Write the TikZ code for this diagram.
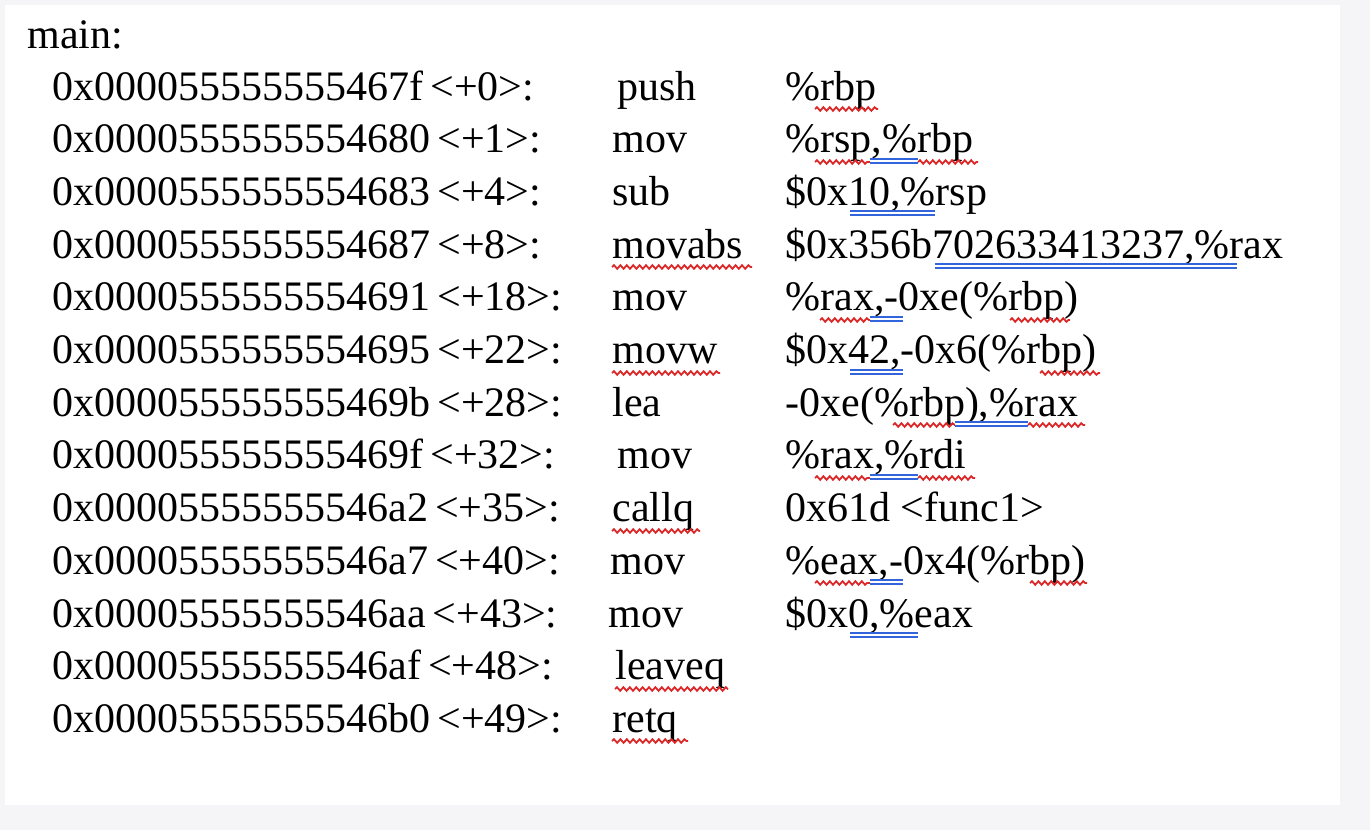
\documentclass[tikz,border=0pt]{standalone}
\usepackage{fontspec}
\setmainfont{Liberation Serif}
\usetikzlibrary{decorations.pathmorphing}
\definecolor{bgc}{RGB}{245,245,247}
\definecolor{spred}{RGB}{220,40,40}
\definecolor{spblue}{RGB}{50,100,220}
\tikzset{
  txt/.style={anchor=base west,inner sep=0pt,font=\fontsize{21}{21}\selectfont},
  redsq/.style={spred,line width=0.9pt,decorate,decoration={snake,amplitude=0.9pt,segment length=3.2pt}},
  bluesq/.style={spblue,line width=0.8pt,double=white,double distance=1.2pt}
}
\newcommand{\rsq}[3]{\draw[redsq] (#1,-#3-9) -- (#2,-#3-9);}
\newcommand{\bsq}[3]{\draw[bluesq] (#1,-#3-8) -- (#2,-#3-8);}
\begin{document}
\begin{tikzpicture}[x=0.5pt,y=0.5pt]
\useasboundingbox (0,0) rectangle (1370,-830);
\fill[bgc] (0,0) rectangle (1370,-830);
\fill[white] (5,-5) rectangle (1340,-805);
\node[txt] (m) at (27,-48) {main:};
\foreach \a/\o/\mn/\mx/\op [count=\i] in {
 0x000055555555467f/{<+0>:}/push/617/{\%rbp},
 0x0000555555554680/{<+1>:}/mov/612/{\%rsp,\%rbp},
 0x0000555555554683/{<+4>:}/sub/612/{\$0x10,\%rsp},
 0x0000555555554687/{<+8>:}/movabs/612/{\$0x356b702633413237,\%rax},
 0x0000555555554691/{<+18>:}/mov/612/{\%rax,-0xe(\%rbp)},
 0x0000555555554695/{<+22>:}/movw/612/{\$0x42,-0x6(\%rbp)},
 0x000055555555469b/{<+28>:}/lea/612/{-0xe(\%rbp),\%rax},
 0x000055555555469f/{<+32>:}/mov/617/{\%rax,\%rdi},
 0x00005555555546a2/{<+35>:}/callq/612/{0x61d <func1>},
 0x00005555555546a7/{<+40>:}/mov/610/{\%eax,-0x4(\%rbp)},
 0x00005555555546aa/{<+43>:}/mov/608/{\$0x0,\%eax},
 0x00005555555546af/{<+48>:}/leaveq/615/{},
 0x00005555555546b0/{<+49>:}/retq/612/{}}{
  \pgfmathsetmacro{\yy}{-100-52.7*(\i-1)}
  \node[txt] (a\i) at (52,\yy) {\a\,\o};
  \node[txt] (n\i) at (\mx,\yy) {\mn};
  \node[txt] (o\i) at (785,\yy) {\op};
}
% spell-check marks
\rsq{815}{878}{100}
\rsq{815}{870}{153}\bsq{870}{918}{153}\rsq{918}{978}{153}
\bsq{850}{935}{205}
\rsq{612}{752}{258}\bsq{935}{1237}{258}
\rsq{820}{870}{311}\bsq{870}{903}{311}\rsq{1010}{1070}{311}
\rsq{612}{720}{364}\bsq{850}{903}{364}\rsq{1040}{1100}{364}
\rsq{893}{955}{416}\bsq{955}{1028}{416}\rsq{1028}{1085}{416}
\rsq{815}{870}{469}\bsq{870}{918}{469}\rsq{918}{975}{469}
\rsq{612}{700}{522}
\rsq{815}{870}{574}\bsq{870}{903}{574}\rsq{1030}{1087}{574}
\bsq{850}{918}{627}
\rsq{615}{728}{680}
\rsq{612}{688}{732}
\end{tikzpicture}
\end{document}
